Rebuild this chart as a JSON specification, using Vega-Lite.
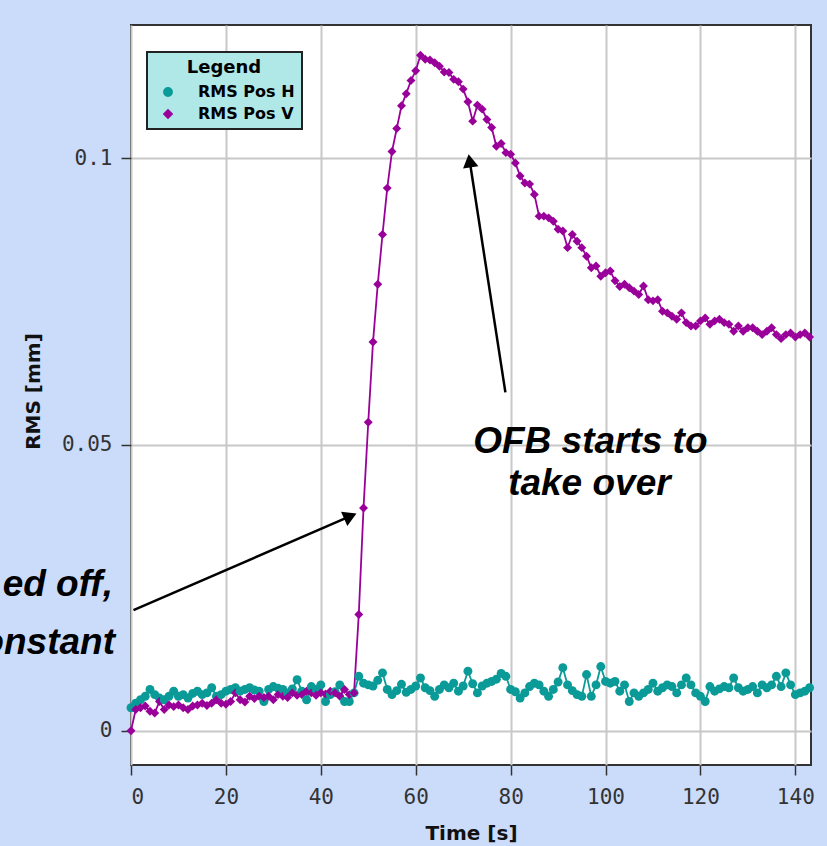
{
  "$schema": "https://vega.github.io/schema/vega-lite/v6.json",
  "width": 680,
  "height": 740,
  "autosize": {"type": "none"},
  "padding": {"left": 131, "top": 25, "right": 16, "bottom": 81},
  "background": "#cbdcfb",
  "config": {
    "view": {"fill": "white", "stroke": "#333333", "strokeWidth": 2},
    "font": "DejaVu Sans",
    "axis": {
      "domain": false,
      "grid": true,
      "gridColor": "#c8c8c8",
      "gridWidth": 2,
      "tickColor": "#333333",
      "tickWidth": 1.5,
      "tickSize": 10,
      "labelFont": "DejaVu Sans Mono",
      "labelFontSize": 21,
      "labelColor": "#333333",
      "titleFont": "DejaVu Sans",
      "titleFontSize": 20,
      "titleFontWeight": "bold",
      "titleColor": "#111111"
    },
    "legend": {
      "orient": "none",
      "legendX": 16,
      "legendY": 27,
      "fillColor": "#b0e8e8",
      "strokeColor": "#222222",
      "strokeWidth": 2,
      "padding": 7,
      "titleFont": "DejaVu Sans",
      "titleFontSize": 18,
      "titleFontWeight": "bold",
      "titleColor": "#000000",
      "titlePadding": 7,
      "titleAnchor": "middle",
      "labelFont": "DejaVu Sans",
      "labelFontSize": 16,
      "labelFontWeight": "bold",
      "labelColor": "#000000",
      "labelOffset": 22,
      "symbolSize": 70,
      "symbolOffset": 6,
      "rowPadding": 6
    }
  },
  "datasets": {
    "rms": [
      {"t":0,"RMS Pos H":0.0040,"RMS Pos V":0.0000},
      {"t":1,"RMS Pos H":0.0048,"RMS Pos V":0.0037},
      {"t":2,"RMS Pos H":0.0054,"RMS Pos V":0.0040},
      {"t":3,"RMS Pos H":0.0060,"RMS Pos V":0.0043},
      {"t":4,"RMS Pos H":0.0072,"RMS Pos V":0.0034},
      {"t":5,"RMS Pos H":0.0063,"RMS Pos V":0.0031},
      {"t":6,"RMS Pos H":0.0057,"RMS Pos V":0.0051},
      {"t":7,"RMS Pos H":0.0054,"RMS Pos V":0.0037},
      {"t":8,"RMS Pos H":0.0060,"RMS Pos V":0.0045},
      {"t":9,"RMS Pos H":0.0069,"RMS Pos V":0.0042},
      {"t":10,"RMS Pos H":0.0060,"RMS Pos V":0.0045},
      {"t":11,"RMS Pos H":0.0063,"RMS Pos V":0.0040},
      {"t":12,"RMS Pos H":0.0057,"RMS Pos V":0.0037},
      {"t":13,"RMS Pos H":0.0065,"RMS Pos V":0.0043},
      {"t":14,"RMS Pos H":0.0069,"RMS Pos V":0.0045},
      {"t":15,"RMS Pos H":0.0063,"RMS Pos V":0.0048},
      {"t":16,"RMS Pos H":0.0066,"RMS Pos V":0.0044},
      {"t":17,"RMS Pos H":0.0075,"RMS Pos V":0.0048},
      {"t":18,"RMS Pos H":0.0060,"RMS Pos V":0.0054},
      {"t":19,"RMS Pos H":0.0063,"RMS Pos V":0.0048},
      {"t":20,"RMS Pos H":0.0069,"RMS Pos V":0.0046},
      {"t":21,"RMS Pos H":0.0072,"RMS Pos V":0.0051},
      {"t":22,"RMS Pos H":0.0075,"RMS Pos V":0.0066},
      {"t":23,"RMS Pos H":0.0069,"RMS Pos V":0.0054},
      {"t":24,"RMS Pos H":0.0072,"RMS Pos V":0.0050},
      {"t":25,"RMS Pos H":0.0075,"RMS Pos V":0.0060},
      {"t":26,"RMS Pos H":0.0071,"RMS Pos V":0.0056},
      {"t":27,"RMS Pos H":0.0069,"RMS Pos V":0.0060},
      {"t":28,"RMS Pos H":0.0051,"RMS Pos V":0.0058},
      {"t":29,"RMS Pos H":0.0072,"RMS Pos V":0.0060},
      {"t":30,"RMS Pos H":0.0077,"RMS Pos V":0.0054},
      {"t":31,"RMS Pos H":0.0074,"RMS Pos V":0.0063},
      {"t":32,"RMS Pos H":0.0072,"RMS Pos V":0.0060},
      {"t":33,"RMS Pos H":0.0066,"RMS Pos V":0.0058},
      {"t":34,"RMS Pos H":0.0073,"RMS Pos V":0.0066},
      {"t":35,"RMS Pos H":0.0089,"RMS Pos V":0.0062},
      {"t":36,"RMS Pos H":0.0069,"RMS Pos V":0.0063},
      {"t":37,"RMS Pos H":0.0054,"RMS Pos V":0.0069},
      {"t":38,"RMS Pos H":0.0077,"RMS Pos V":0.0066},
      {"t":39,"RMS Pos H":0.0072,"RMS Pos V":0.0062},
      {"t":40,"RMS Pos H":0.0080,"RMS Pos V":0.0066},
      {"t":41,"RMS Pos H":0.0051,"RMS Pos V":0.0064},
      {"t":42,"RMS Pos H":0.0063,"RMS Pos V":0.0069},
      {"t":43,"RMS Pos H":0.0068,"RMS Pos V":0.0066},
      {"t":44,"RMS Pos H":0.0080,"RMS Pos V":0.0060},
      {"t":45,"RMS Pos H":0.0051,"RMS Pos V":0.0072},
      {"t":46,"RMS Pos H":0.0051,"RMS Pos V":0.0063},
      {"t":47,"RMS Pos H":0.0066,"RMS Pos V":0.0066},
      {"t":48,"RMS Pos H":0.0095,"RMS Pos V":0.0203},
      {"t":49,"RMS Pos H":0.0083,"RMS Pos V":0.0389},
      {"t":50,"RMS Pos H":0.0080,"RMS Pos V":0.0539},
      {"t":51,"RMS Pos H":0.0078,"RMS Pos V":0.0679},
      {"t":52,"RMS Pos H":0.0088,"RMS Pos V":0.0780},
      {"t":53,"RMS Pos H":0.0101,"RMS Pos V":0.0867},
      {"t":54,"RMS Pos H":0.0072,"RMS Pos V":0.0948},
      {"t":55,"RMS Pos H":0.0063,"RMS Pos V":0.1012},
      {"t":56,"RMS Pos H":0.0070,"RMS Pos V":0.1052},
      {"t":57,"RMS Pos H":0.0081,"RMS Pos V":0.1092},
      {"t":58,"RMS Pos H":0.0067,"RMS Pos V":0.1113},
      {"t":59,"RMS Pos H":0.0072,"RMS Pos V":0.1136},
      {"t":60,"RMS Pos H":0.0078,"RMS Pos V":0.1153},
      {"t":61,"RMS Pos H":0.0092,"RMS Pos V":0.1180},
      {"t":62,"RMS Pos H":0.0075,"RMS Pos V":0.1173},
      {"t":63,"RMS Pos H":0.0070,"RMS Pos V":0.1172},
      {"t":64,"RMS Pos H":0.0060,"RMS Pos V":0.1167},
      {"t":65,"RMS Pos H":0.0072,"RMS Pos V":0.1161},
      {"t":66,"RMS Pos H":0.0080,"RMS Pos V":0.1151},
      {"t":67,"RMS Pos H":0.0075,"RMS Pos V":0.1150},
      {"t":68,"RMS Pos H":0.0083,"RMS Pos V":0.1138},
      {"t":69,"RMS Pos H":0.0069,"RMS Pos V":0.1134},
      {"t":70,"RMS Pos H":0.0078,"RMS Pos V":0.1121},
      {"t":71,"RMS Pos H":0.0104,"RMS Pos V":0.1099},
      {"t":72,"RMS Pos H":0.0082,"RMS Pos V":0.1065},
      {"t":73,"RMS Pos H":0.0066,"RMS Pos V":0.1093},
      {"t":74,"RMS Pos H":0.0078,"RMS Pos V":0.1086},
      {"t":75,"RMS Pos H":0.0083,"RMS Pos V":0.1068},
      {"t":76,"RMS Pos H":0.0086,"RMS Pos V":0.1054},
      {"t":77,"RMS Pos H":0.0090,"RMS Pos V":0.1021},
      {"t":78,"RMS Pos H":0.0100,"RMS Pos V":0.1026},
      {"t":79,"RMS Pos H":0.0095,"RMS Pos V":0.1010},
      {"t":80,"RMS Pos H":0.0072,"RMS Pos V":0.1007},
      {"t":81,"RMS Pos H":0.0068,"RMS Pos V":0.0992},
      {"t":82,"RMS Pos H":0.0057,"RMS Pos V":0.0969},
      {"t":83,"RMS Pos H":0.0066,"RMS Pos V":0.0957},
      {"t":84,"RMS Pos H":0.0077,"RMS Pos V":0.0955},
      {"t":85,"RMS Pos H":0.0083,"RMS Pos V":0.0937},
      {"t":86,"RMS Pos H":0.0080,"RMS Pos V":0.0899},
      {"t":87,"RMS Pos H":0.0069,"RMS Pos V":0.0899},
      {"t":88,"RMS Pos H":0.0060,"RMS Pos V":0.0896},
      {"t":89,"RMS Pos H":0.0072,"RMS Pos V":0.0890},
      {"t":90,"RMS Pos H":0.0085,"RMS Pos V":0.0876},
      {"t":91,"RMS Pos H":0.0110,"RMS Pos V":0.0873},
      {"t":92,"RMS Pos H":0.0080,"RMS Pos V":0.0844},
      {"t":93,"RMS Pos H":0.0070,"RMS Pos V":0.0867},
      {"t":94,"RMS Pos H":0.0063,"RMS Pos V":0.0855},
      {"t":95,"RMS Pos H":0.0060,"RMS Pos V":0.0844},
      {"t":96,"RMS Pos H":0.0098,"RMS Pos V":0.0829},
      {"t":97,"RMS Pos H":0.0060,"RMS Pos V":0.0809},
      {"t":98,"RMS Pos H":0.0080,"RMS Pos V":0.0812},
      {"t":99,"RMS Pos H":0.0112,"RMS Pos V":0.0794},
      {"t":100,"RMS Pos H":0.0086,"RMS Pos V":0.0800},
      {"t":101,"RMS Pos H":0.0083,"RMS Pos V":0.0803},
      {"t":102,"RMS Pos H":0.0086,"RMS Pos V":0.0786},
      {"t":103,"RMS Pos H":0.0069,"RMS Pos V":0.0776},
      {"t":104,"RMS Pos H":0.0080,"RMS Pos V":0.0780},
      {"t":105,"RMS Pos H":0.0051,"RMS Pos V":0.0774},
      {"t":106,"RMS Pos H":0.0066,"RMS Pos V":0.0768},
      {"t":107,"RMS Pos H":0.0060,"RMS Pos V":0.0762},
      {"t":108,"RMS Pos H":0.0066,"RMS Pos V":0.0777},
      {"t":109,"RMS Pos H":0.0072,"RMS Pos V":0.0753},
      {"t":110,"RMS Pos H":0.0083,"RMS Pos V":0.0751},
      {"t":111,"RMS Pos H":0.0069,"RMS Pos V":0.0753},
      {"t":112,"RMS Pos H":0.0075,"RMS Pos V":0.0733},
      {"t":113,"RMS Pos H":0.0080,"RMS Pos V":0.0730},
      {"t":114,"RMS Pos H":0.0077,"RMS Pos V":0.0724},
      {"t":115,"RMS Pos H":0.0066,"RMS Pos V":0.0719},
      {"t":116,"RMS Pos H":0.0080,"RMS Pos V":0.0730},
      {"t":117,"RMS Pos H":0.0092,"RMS Pos V":0.0713},
      {"t":118,"RMS Pos H":0.0080,"RMS Pos V":0.0707},
      {"t":119,"RMS Pos H":0.0066,"RMS Pos V":0.0707},
      {"t":120,"RMS Pos H":0.0060,"RMS Pos V":0.0716},
      {"t":121,"RMS Pos H":0.0051,"RMS Pos V":0.0721},
      {"t":122,"RMS Pos H":0.0077,"RMS Pos V":0.0710},
      {"t":123,"RMS Pos H":0.0069,"RMS Pos V":0.0716},
      {"t":124,"RMS Pos H":0.0073,"RMS Pos V":0.0719},
      {"t":125,"RMS Pos H":0.0077,"RMS Pos V":0.0713},
      {"t":126,"RMS Pos H":0.0075,"RMS Pos V":0.0710},
      {"t":127,"RMS Pos H":0.0092,"RMS Pos V":0.0698},
      {"t":128,"RMS Pos H":0.0075,"RMS Pos V":0.0707},
      {"t":129,"RMS Pos H":0.0069,"RMS Pos V":0.0698},
      {"t":130,"RMS Pos H":0.0072,"RMS Pos V":0.0704},
      {"t":131,"RMS Pos H":0.0077,"RMS Pos V":0.0704},
      {"t":132,"RMS Pos H":0.0066,"RMS Pos V":0.0698},
      {"t":133,"RMS Pos H":0.0080,"RMS Pos V":0.0692},
      {"t":134,"RMS Pos H":0.0075,"RMS Pos V":0.0698},
      {"t":135,"RMS Pos H":0.0080,"RMS Pos V":0.0704},
      {"t":136,"RMS Pos H":0.0095,"RMS Pos V":0.0692},
      {"t":137,"RMS Pos H":0.0077,"RMS Pos V":0.0685},
      {"t":138,"RMS Pos H":0.0101,"RMS Pos V":0.0692},
      {"t":139,"RMS Pos H":0.0080,"RMS Pos V":0.0695},
      {"t":140,"RMS Pos H":0.0063,"RMS Pos V":0.0688},
      {"t":141,"RMS Pos H":0.0066,"RMS Pos V":0.0692},
      {"t":142,"RMS Pos H":0.0069,"RMS Pos V":0.0695},
      {"t":143,"RMS Pos H":0.0075,"RMS Pos V":0.0688}
    ],
    "arrows": [
      {"t": 0.53, "val": 0.02107, "t2": 46.22, "val2": 0.03748},
      {"t": 78.9, "val": 0.0591, "t2": 71.37, "val2": 0.09958}
    ],
    "heads": [
      {"t": 46.22, "val": 0.03748, "ang": 66},
      {"t": 71.37, "val": 0.09958, "ang": 351}
    ],
    "notesCenter": [
      {"t": 96.8, "val": 0.05052, "label": "OFB starts to"},
      {"t": 96.6, "val": 0.04318, "label": "take over"}
    ],
    "notesRight": [
      {"t": -3.8, "val": 0.02552, "label": "ed off,"},
      {"t": -3.38, "val": 0.01538, "label": "onstant"}
    ]
  },
  "encoding": {
    "x": {
      "field": "t",
      "type": "quantitative",
      "title": "Time [s]",
      "scale": {"domain": [0, 143.3], "nice": false, "zero": false},
      "axis": {"values": [0, 20, 40, 60, 80, 100, 120, 140], "labelPadding": 11, "titleX": 340, "titleY": 68, "titleBaseline": "middle"}
    },
    "y": {
      "field": "val",
      "type": "quantitative",
      "title": "RMS [mm]",
      "scale": {"domain": [-0.006, 0.1233], "nice": false, "zero": false},
      "axis": {"values": [0, 0.05, 0.1], "format": "~g", "labelPadding": 9, "titleX": -98, "titleY": 366, "titleBaseline": "middle", "titleAlign": "center"}
    }
  },
  "layer": [
    {
      "data": {"name": "rms"},
      "transform": [{"fold": ["RMS Pos H", "RMS Pos V"], "as": ["series", "val"]}],
      "mark": {"type": "line", "strokeWidth": 1.8},
      "encoding": {
        "color": {
          "field": "series",
          "type": "nominal",
          "title": "Legend",
          "scale": {"domain": ["RMS Pos H", "RMS Pos V"], "range": ["#0a9a97", "#990099"]}
        }
      }
    },
    {
      "data": {"name": "rms"},
      "transform": [{"fold": ["RMS Pos H", "RMS Pos V"], "as": ["series", "val"]}],
      "mark": {"type": "point", "filled": true, "opacity": 1, "size": 80},
      "encoding": {
        "color": {"field": "series", "type": "nominal", "title": "Legend"},
        "shape": {
          "field": "series",
          "type": "nominal",
          "title": "Legend",
          "scale": {"domain": ["RMS Pos H", "RMS Pos V"], "range": ["circle", "diamond"]}
        }
      }
    },
    {
      "data": {"name": "arrows"},
      "mark": {"type": "rule", "color": "black", "strokeWidth": 2.5},
      "encoding": {
        "x2": {"field": "t2"},
        "y2": {"field": "val2"}
      }
    },
    {
      "data": {"name": "heads"},
      "mark": {"type": "point", "shape": "triangle-up", "filled": true, "color": "black", "opacity": 1, "size": 240},
      "encoding": {
        "angle": {"field": "ang", "type": "quantitative", "scale": null}
      }
    },
    {
      "data": {"name": "notesCenter"},
      "mark": {"type": "text", "font": "Liberation Sans", "fontSize": 37, "fontWeight": "bold", "fontStyle": "italic", "align": "center", "baseline": "middle", "color": "black"},
      "encoding": {"text": {"field": "label"}}
    },
    {
      "data": {"name": "notesRight"},
      "mark": {"type": "text", "font": "Liberation Sans", "fontSize": 37, "fontWeight": "bold", "fontStyle": "italic", "align": "right", "baseline": "middle", "color": "black"},
      "encoding": {"text": {"field": "label"}}
    }
  ]
}
